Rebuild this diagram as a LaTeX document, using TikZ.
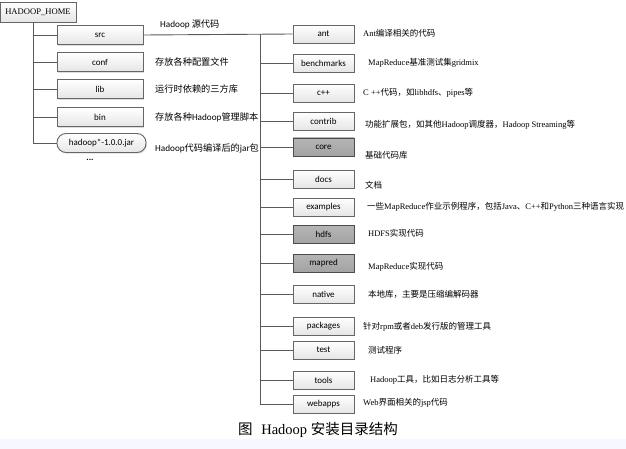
\documentclass[tikz,border=0pt]{standalone}
\usepackage{fontspec}
\setmainfont{Liberation Serif}
\setsansfont{Carlito}
\newfontfamily\cjk{Noto Sans CJK SC}
\newcommand{\zh}[1]{{\cjk #1}}
\usepackage{tikz}
\usetikzlibrary{shadows}
\tikzset{
 dirbox/.style={draw=black!60, line width=0.9pt, top color=white, bottom color=gray!20,
   minimum width=61pt, minimum height=18pt, inner sep=0pt,
   font=\sffamily\fontsize{9}{10}\selectfont,
   drop shadow={shadow xshift=1pt, shadow yshift=-1.2pt, fill=gray!45, opacity=0.6}},
 graybox/.style={dirbox, top color=gray!58, bottom color=gray!72, draw=black!70},
 topbox/.style={dirbox, minimum width=86pt, minimum height=19pt},
 lbl/.style={anchor=west, inner sep=0pt, font=\fontsize{8.5}{10}\selectfont},
 llbl/.style={anchor=west, inner sep=0pt, font=\sffamily\fontsize{9.2}{11}\selectfont},
 branch/.style={draw=black!65, line width=0.9pt}
}
\begin{document}
\begin{tikzpicture}[x=1pt,y=-1pt]
\useasboundingbox (0,0) rectangle (626,449);
\fill[blue!3] (0,439) rectangle (626,449);

% root and first level
\node[dirbox, minimum width=76pt, minimum height=20pt, font=\fontsize{8.6}{10}\selectfont] (home) at (38,12) {HADOOP\_HOME};
\node[topbox] (src)  at (100,35)  {src};
\node[topbox] (conf) at (100,62)  {conf};
\node[topbox] (lib)  at (100,89)  {lib};
\node[topbox] (bin)  at (100,117) {bin};
\node[topbox, minimum width=89pt, rounded corners=9pt] (jar) at (101.5,143) {hadoop*-1.0.0.jar};
\node[font=\sffamily\bfseries\small] (more) at (90,160) {...};

\node[llbl] (srclbl)  at (160,24)  {Hadoop \zh{源代码}};
\node[llbl] (conflbl) at (155,62)  {\zh{存放各种配置文件}};
\node[llbl] (liblbl)  at (155,89)  {\zh{运行时依赖的三方库}};
\node[llbl] (binlbl)  at (155,117) {\zh{存放各种}Hadoop\zh{管理脚本}};
\node[llbl] (jarlbl)  at (155,148) {Hadoop\zh{代码编译后的}jar\zh{包}};

% src subdirectories
\node[dirbox]  (ant)      at (323.5,34)  {ant};
\node[dirbox]  (bench)    at (323.5,63)  {benchmarks};
\node[dirbox]  (cpp)      at (323.5,93)  {c++};
\node[dirbox]  (contrib)  at (323.5,121) {contrib};
\node[graybox] (core)     at (323.5,147) {core};
\node[dirbox]  (docs)     at (323.5,179) {docs};
\node[dirbox]  (examples) at (323.5,207) {examples};
\node[graybox] (hdfs)     at (323.5,234) {hdfs};
\node[graybox] (mapred)   at (323.5,263) {mapred};
\node[dirbox]  (native)   at (323.5,294) {native};
\node[dirbox]  (packages) at (323.5,326) {packages};
\node[dirbox]  (test)     at (323.5,350) {test};
\node[dirbox]  (tools)    at (323.5,380) {tools};
\node[dirbox]  (webapps)  at (323.5,404) {webapps};

\node[lbl] (antlbl)      at (363,33)  {Ant\zh{编译相关的代码}};
\node[lbl] (benchlbl)    at (368,63)  {MapReduce\zh{基准测试集}gridmix};
\node[lbl] (cpplbl)      at (363,93)  {C ++\zh{代码，如}libhdfs\zh{、}pipes\zh{等}};
\node[lbl] (contriblbl)  at (365,125) {\zh{功能扩展包，如其他}Hadoop\zh{调度器，}Hadoop Streaming\zh{等}};
\node[lbl] (corelbl)     at (365,155) {\zh{基础代码库}};
\node[lbl] (docslbl)     at (365,185) {\zh{文档}};
\node[lbl] (exampleslbl) at (367,207) {\zh{一些}MapReduce\zh{作业示例程序，包括}Java\zh{、}C++\zh{和}Python\zh{三种语言实现}};
\node[lbl] (hdfslbl)     at (368,233) {HDFS\zh{实现代码}};
\node[lbl] (mapredlbl)   at (368,267) {MapReduce\zh{实现代码}};
\node[lbl] (nativelbl)   at (368,294) {\zh{本地库，主要是压缩编解码器}};
\node[lbl] (packageslbl) at (363,327) {\zh{针对}rpm\zh{或者}deb\zh{发行版的管理工具}};
\node[lbl] (testlbl)     at (368,350) {\zh{测试程序}};
\node[lbl] (toolslbl)    at (370,380) {Hadoop\zh{工具，比如日志分析工具等}};
\node[lbl] (webappslbl)  at (363,403) {Web\zh{界面相关的}jsp\zh{代码}};

% tree lines
\coordinate (ltop) at (33,22);
\draw[branch] (ltop) |- (jar.west);
\foreach \n in {src,conf,lib,bin}
 \draw[branch] (ltop |- \n.west) -- (\n.west);

\coordinate (rtop) at (260,34);
\draw[branch] (src.east) -- (ant.west);
\draw[branch] (rtop) |- (webapps.west);
\foreach \n in {bench,cpp,contrib,core,docs,examples,hdfs,mapred,native,packages,test,tools}
 \draw[branch] (rtop |- \n.west) -- (\n.west);

\node[font=\fontsize{14.5}{16}\selectfont] (caption) at (318,430) {\zh{图}\hspace{0.6em}Hadoop \zh{安装目录结构}};
\end{tikzpicture}
\end{document}
